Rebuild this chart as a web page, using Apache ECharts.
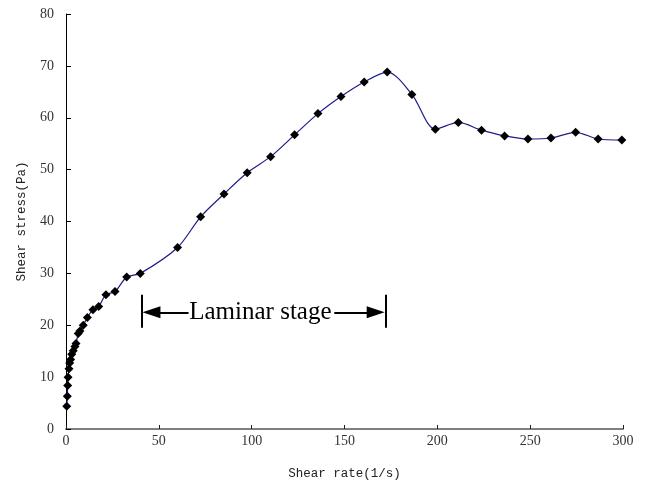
<!DOCTYPE html>
<html>
<head>
<meta charset="utf-8">
<script src="https://cdn.jsdelivr.net/npm/echarts@6/dist/echarts.min.js"></script>
<style>
  html, body { margin: 0; padding: 0; background: #fff; }
  #chart { width: 646px; height: 486px; }
</style>
</head>
<body>
<div id="chart"></div>
<script>
// shear rate (1/s)
const shearRate = [0.4, 0.7, 0.9, 1.1, 1.6, 2.0, 2.5, 3.1, 3.9, 4.8, 5.4, 6.6, 7.5, 9.3, 11.5, 14.5, 17.6,
  21.5, 26.4, 32.7, 40.0, 60.1, 72.5, 85.1, 97.6, 110.2, 123.1, 135.7, 148.1, 160.6, 173.0,
  186.3, 198.9, 211.3, 223.8, 236.2, 248.8, 261.2, 274.5, 286.6, 299.4];
// shear stress (Pa)
const shearStress = [4.4, 6.3, 8.4, 10.0, 11.6, 12.7, 13.4, 14.4, 15.1, 15.9, 16.5, 18.4, 18.9, 20.0, 21.5, 23.0, 23.6,
  25.9, 26.5, 29.3, 30.0, 35.0, 40.9, 45.3, 49.4, 52.5, 56.7, 60.8, 64.1, 66.9, 68.8,
  64.5, 57.8, 59.1, 57.6, 56.5, 55.9, 56.1, 57.2, 55.9, 55.7];
// 层流段标注
const stageLabel = 'Laminar stage';
const stageStart = 40.8, stageEnd = 172, stageY = 22.5, barLow = 19.5, barHigh = 25.9;

const points = shearRate.map((x, i) => [x, shearStress[i]]);
const nameFont = 'Liberation Mono';
const tickFont = 'Liberation Serif';

let myChart = echarts.init(document.getElementById('chart'));
let option = {
  animation: false,
  backgroundColor: '#fff',
  grid: { left: 66, right: 23, top: 14, bottom: 57 },
  xAxis: {
    type: 'value',
    min: 0, max: 300, interval: 50,
    name: 'Shear rate(1/s)',
    nameLocation: 'middle',
    nameGap: 38,
    nameTextStyle: { fontFamily: nameFont, fontSize: 12.5, color: '#222' },
    axisLine: { onZero: false, lineStyle: { color: '#7f7f7f', width: 2 } },
    axisTick: { inside: true, length: 4, lineStyle: { color: '#222' } },
    axisLabel: { fontFamily: tickFont, fontSize: 14, color: '#333', margin: 5 },
    splitLine: { show: false }
  },
  yAxis: {
    type: 'value',
    min: 0, max: 80, interval: 10,
    name: 'Shear stress(Pa)',
    nameLocation: 'middle',
    nameGap: 38,
    nameTextStyle: { fontFamily: nameFont, fontSize: 12.5, color: '#222' },
    axisLine: { show: true, lineStyle: { color: '#000', width: 1 } },
    axisTick: { show: true, inside: true, length: 5, lineStyle: { color: '#000' } },
    axisLabel: { fontFamily: tickFont, fontSize: 14, color: '#333', margin: 12 },
    splitLine: { show: false }
  },
  series: [
    {
      type: 'line',
      data: points,
      smooth: 0.3,
      symbol: 'diamond',
      symbolSize: 9,
      lineStyle: { color: '#1c1c8c', width: 1.2 },
      itemStyle: { color: '#000' },
      z: 3
    },
    {
      // 标注：箭头和竖线，箭头尖顶到竖线
      type: 'line',
      data: [],
      silent: true,
      markLine: {
        silent: true,
        animation: false,
        label: { show: false },
        lineStyle: { color: '#000', width: 2, type: 'solid' },
        data: [
          [{ coord: [stageStart, barLow], symbol: 'none' }, { coord: [stageStart, barHigh], symbol: 'none' }],
          [{ coord: [stageEnd, barLow], symbol: 'none' }, { coord: [stageEnd, barHigh], symbol: 'none' }],
          [{ coord: [66, stageY], symbol: 'none' }, { coord: [stageStart + 5.2, stageY], symbol: 'triangle', symbolSize: [12, 18], symbolRotate: 90 }],
          [{ coord: [144.5, stageY], symbol: 'none' }, { coord: [stageEnd - 5.2, stageY], symbol: 'triangle', symbolSize: [12, 18], symbolRotate: -90 }]
        ]
      },
      markPoint: {
        silent: true,
        symbol: 'circle',
        symbolSize: 1,
        itemStyle: { color: 'rgba(0,0,0,0)' },
        label: {
          show: true,
          position: 'inside',
          formatter: stageLabel,
          fontFamily: 'Liberation Serif',
          fontSize: 25,
          color: '#000'
        },
        data: [{ coord: [104.7, stageY] }]
      }
    }
  ]
};
myChart.setOption(option);
</script>
</body>
</html>
